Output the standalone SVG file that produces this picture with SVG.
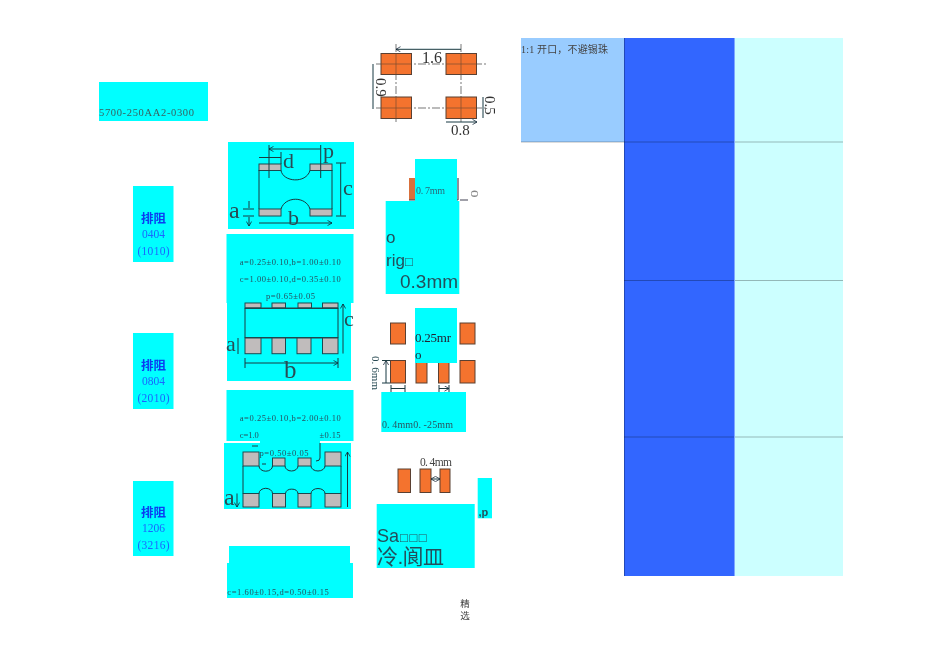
<svg xmlns="http://www.w3.org/2000/svg" width="950" height="659" viewBox="0 0 950 659">
<defs>
<marker id="ah" viewBox="0 0 8 8" refX="7" refY="4" markerWidth="6" markerHeight="6" orient="auto-start-reverse" markerUnits="userSpaceOnUse"><path d="M1 0.5L7 4L1 7.5" fill="none" stroke="#123" stroke-width="1"/></marker>
<filter id="soft" filterUnits="userSpaceOnUse" x="0" y="0" width="950" height="659"><feGaussianBlur stdDeviation="0.3"/></filter>
</defs>
<style>
.cy{fill:#00ffff}
.ser{font-family:"Liberation Serif","Noto Sans CJK SC",serif}
.lab{font-size:12.5px;font-weight:700;fill:#0a3cf0;font-family:"Noto Sans CJK SC",sans-serif;text-anchor:middle}
.sz{font-size:11.5px;fill:#1a66ff;font-family:"Liberation Serif",serif;text-anchor:middle}
.spec{font-size:8.500px;fill:#24505f;font-family:"Liberation Serif","Noto Sans CJK SC",serif}
.big{font-family:"Liberation Serif",serif;fill:#2a4c54}
.sw{fill:#c0bcbc;stroke:#1f4a50;stroke-width:1}
.ln{fill:none;stroke:#1a3a40;stroke-width:1}
.dim{fill:none;stroke:#1a3a40;stroke-width:1;marker-start:url(#ah);marker-end:url(#ah)}
.pad{fill:#f4732e;stroke:#5a4030;stroke-width:1}
.ctr{fill:none;stroke:#555;stroke-width:.8;stroke-dasharray:8 2 2 2}
.dk{fill:#24505c;font-family:"Liberation Sans","Noto Sans CJK SC",sans-serif}
.row{stroke:#000;stroke-opacity:.28;stroke-width:1}
</style>
<g filter="url(#soft)">

<g id="part-number"><rect class="cy" x="99" y="82" width="109" height="39"/><text class="ser" x="99" y="116" font-size="10.500" fill="#3a6060" textLength="95">5700-250AA2-0300</text></g>

<g id="label-0404"><rect class="cy" x="133" y="186" width="40.500" height="76"/><text class="lab" x="153.500" y="223">排阻</text><text class="sz" x="153.500" y="238">0404</text><text class="sz" x="153.500" y="255" textLength="32">(1010)</text></g>
<g id="label-0804"><rect class="cy" x="133" y="333" width="40.500" height="76"/><text class="lab" x="153.500" y="370">排阻</text><text class="sz" x="153.500" y="385">0804</text><text class="sz" x="153.500" y="402" textLength="32">(2010)</text></g>
<g id="label-1206"><rect class="cy" x="133" y="481" width="40.500" height="75"/><text class="lab" x="153.500" y="517">排阻</text><text class="sz" x="153.500" y="532">1206</text><text class="sz" x="153.500" y="549" textLength="32">(3216)</text></g>

<g id="drawing-0404">
<rect class="cy" x="228" y="142" width="126" height="87"/>
<rect class="sw" x="259" y="164" width="22" height="6.500"/><rect class="sw" x="310" y="164" width="22" height="6.500"/>
<rect class="sw" x="259" y="209" width="22" height="7"/><rect class="sw" x="310" y="209" width="22" height="7"/>
<path class="ln" d="M259 170V209M332 170V209M281 170.500C283 182 306 184 310 170.500M281 209C285 196 306 196 310 209"/>
<path class="ln" d="M269 145V178M320.700 145V178M281 152V164"/>
<path class="dim" d="M269 149H320.700M259 157.500H281M340.700 163V215.700M259 223H332"/>
<path class="ln" d="M336 163H346M336 216H346M243 209H254M243 216H254"/>
<path class="ln" d="M249 201V208M249 217V226" marker-end="url(#ah)"/>
<text class="big" x="283" y="168" font-size="22">d</text><text class="big" x="323" y="158" font-size="22">p</text><text class="big" x="343" y="195" font-size="22">c</text><text class="big" x="229" y="218" font-size="24">a</text><text class="big" x="288" y="225" font-size="22">b</text>
</g>

<g id="spec-0404">
<rect class="cy" x="226.500" y="234" width="127" height="69"/>
<text class="spec" x="239.700" y="265" textLength="101">a=0.25±0.10,b=1.00±0.10</text>
<text class="spec" x="239.700" y="282" textLength="101">c=1.00±0.10,d=0.35±0.10</text>
<text class="spec" x="266" y="298.700" textLength="49">p=0.65±0.05</text>
</g>

<g id="drawing-0804">
<rect class="cy" x="227" y="303" width="124" height="78"/>
<rect class="sw" x="245" y="303" width="16" height="5"/><rect class="sw" x="272" y="303" width="13.500" height="5"/><rect class="sw" x="298" y="303" width="13.500" height="5"/><rect class="sw" x="322.500" y="303" width="15.500" height="5"/>
<path d="M245 308.300H338M245 337.700H338" fill="none" stroke="#1f4a50" stroke-width="1.500"/>
<path class="ln" d="M245 308V338M338 308V338"/>
<rect class="sw" x="245" y="338" width="16" height="15.700"/><rect class="sw" x="272" y="338" width="13.500" height="15.700"/><rect class="sw" x="297" y="338" width="14" height="15.700"/><rect class="sw" x="322.500" y="338" width="15.500" height="15.700"/>
<path class="dim" d="M343 304V353.500M238 338V354M245 363H338"/>
<path class="ln" d="M245 358V368M338 358V368"/>
<text class="big" x="344" y="326" font-size="22">c</text><text class="big" x="226" y="351" font-size="22">a</text><text class="big" x="284" y="378" font-size="25">b</text>
</g>

<g id="spec-0804">
<rect class="cy" x="226.500" y="390" width="127" height="51"/>
<text class="spec" x="239.700" y="421" textLength="101">a=0.25±0.10,b=2.00±0.10</text>
<text class="spec" x="239.700" y="437.700" textLength="19">c=1.0</text>
<text class="spec" x="319.500" y="437.700" textLength="21">±0.15</text>
</g>

<g id="drawing-1206">
<rect class="cy" x="224" y="443" width="127" height="66"/>
<rect class="cy" x="260" y="441" width="60" height="3"/>
<rect class="sw" x="243" y="452" width="16" height="14"/><rect class="sw" x="272.500" y="458" width="12.500" height="8"/><rect class="sw" x="298" y="458" width="13" height="8"/><rect class="sw" x="325" y="452" width="16" height="14"/>
<rect class="sw" x="243" y="493.500" width="16" height="13.500"/><rect class="sw" x="272.500" y="493.500" width="13" height="13.500"/><rect class="sw" x="298" y="493.500" width="13" height="13.500"/><rect class="sw" x="325" y="493.500" width="16" height="13.500"/>
<path class="ln" d="M243 466V493.500M341 466V493.500M259 466A6.500 5 0 0 0 272.500 466M285 466A6.500 5 0 0 0 298 466M311 466A7 5 0 0 0 325 466M259 493.500A6.500 5 0 0 1 272.500 493.500M285.500 493.500A6.300 5 0 0 1 298 493.500M311 493.500A7 5 0 0 1 325 493.500"/>
<path class="dim" d="M347.500 452V507M237 493.500V507"/>
<path class="ln" d="M258 446H252M320 443V458Q320 461 316 461M262 464H266"/>
<text class="big" x="224" y="505" font-size="24">a</text>
<text class="spec" x="259.500" y="455.700" textLength="49">p=0.50±0.05</text>
</g>

<g id="spec-1206">
<rect class="cy" x="229" y="546" width="121" height="18"/>
<rect class="cy" x="227" y="563" width="126" height="35"/>
<text class="spec" x="227.300" y="594.700" textLength="101.500">c=1.60±0.15,d=0.50±0.15</text>
</g>

<g id="land-0404-top">
<path class="ctr" d="M396 44V122M461 44V122M376 64H486M376 108H486"/>
<rect class="pad" x="381" y="53.500" width="30.500" height="21"/><rect class="pad" x="446" y="53.500" width="30.500" height="21"/><rect class="pad" x="381" y="97" width="30.500" height="21.500"/><rect class="pad" x="446" y="97" width="30.500" height="21.500"/>
<path d="M396 53.500V74.500M461 53.500V74.500M396 97V118.500M461 97V118.500M381 64H411.500M446 64H476.500M381 108H411.500M446 108H476.500" fill="none" stroke="#7a4a30" stroke-width=".7"/>
<path class="dim" d="M396 49.300H461M373 64V109M483 97V118M446 122H477"/>
<text class="ser" x="422" y="63" font-size="16" fill="#333">1.6</text>
<text class="ser" transform="translate(376 78) rotate(90)" font-size="15" fill="#333">0.9</text>
<text class="ser" transform="translate(485 96) rotate(90)" font-size="15" fill="#333">0.5</text>
<text class="ser" x="451" y="135" font-size="15" fill="#333">0.8</text>
</g>

<g id="land-0404">
<rect x="409" y="178" width="6" height="22" fill="#d9703a"/>
<path d="M458 178V200M409 200H425M442 200H458M460 200H468" fill="none" stroke="#445" stroke-width="1.200"/>
<text class="ser" transform="translate(471 190) rotate(90)" font-size="15" fill="#888">o</text>
<rect class="cy" x="415" y="159" width="42" height="42"/>
<text class="ser" x="416" y="194" font-size="10" fill="#2a6a7a" textLength="29">0. 7mm</text>
<rect class="cy" x="385.700" y="201" width="73.600" height="93"/>
<text class="dk" x="386" y="243" font-size="17">o</text>
<text class="dk" x="386" y="266" font-size="17">rig<tspan font-size="13">□</tspan></text>
<text class="dk" x="400" y="287.500" font-size="19">0.3mm</text>
</g>

<g id="land-0804">
<rect class="pad" x="390.500" y="323" width="15" height="21"/><rect class="pad" x="460" y="323" width="15" height="21"/>
<rect class="pad" x="390.500" y="360.500" width="15" height="22.500"/><rect class="pad" x="416" y="360.500" width="11" height="22.500"/><rect class="pad" x="438.500" y="360.500" width="10.500" height="22.500"/><rect class="pad" x="460" y="360.500" width="15" height="22.500"/>
<path class="dim" d="M386 360.500V383M391 388.500H405M439 388.500H449"/>
<path class="ln" d="M382 360.500H390M382 383H390M391 385V392M405 385V392M439 385V392M449 385V392"/>
<text class="big" transform="translate(372 356) rotate(90)" font-size="11" fill="#333" textLength="34">0. 6mm</text>
<rect class="cy" x="415" y="308" width="42" height="55"/>
<text class="ser" x="415" y="342" font-size="13" fill="#223" textLength="36">0.25mr</text>
<text class="ser" x="415" y="358.500" font-size="13" fill="#223">o</text>
<rect class="cy" x="381.300" y="392" width="84.700" height="40"/>
<text class="ser" x="382" y="427.500" font-size="10" fill="#2a5560" textLength="71">0. 4mm0. -25mm</text>
</g>

<g id="land-1206">
<rect class="pad" x="398" y="469" width="12.500" height="23.500"/><rect class="pad" x="420" y="469" width="11" height="23.500"/><rect class="pad" x="440" y="469" width="10" height="23.500"/>
<path class="dim" d="M431 479H440"/>
<text class="ser" x="420" y="466" font-size="11.500" fill="#444" textLength="32">0. 4mm</text>
<rect class="cy" x="477.700" y="478" width="14.300" height="40.300"/>
<text class="dk" x="478.500" y="515.700" font-size="11" font-weight="700">,p</text>
<rect class="cy" x="376.700" y="504" width="98" height="64"/>
<text class="dk" x="377" y="541.700" font-size="18" fill="#1f4a55">Sa<tspan font-size="13" dx="1" letter-spacing="1.500">□□□</tspan></text>
<text class="dk" x="377" y="564" font-size="21" fill="#1f4a55" textLength="67">冷.阆皿</text>
</g>

<g id="table">
<rect x="521" y="38" width="103" height="104" fill="#99ccff"/>
<rect x="624" y="38" width="110.500" height="538" fill="#3366ff"/>
<rect x="734.500" y="38" width="108.500" height="538" fill="#ccffff"/>
<path class="row" d="M521 142H843M624 280.500H843M624 437H843M624.500 38V576"/>
<path d="M734.500 38V576" stroke="#7fa8ff" stroke-width="1"/>
<text class="ser" x="521" y="52.700" font-size="10" fill="#444" textLength="87">1:1 开口，不避锡珠</text>
</g>

<g id="footer"><text x="465" y="607" class="ser" font-size="9.500" fill="#444" text-anchor="middle">精</text><text x="465" y="618.500" class="ser" font-size="9.500" fill="#444" text-anchor="middle">选</text></g>
</g>
</svg>
